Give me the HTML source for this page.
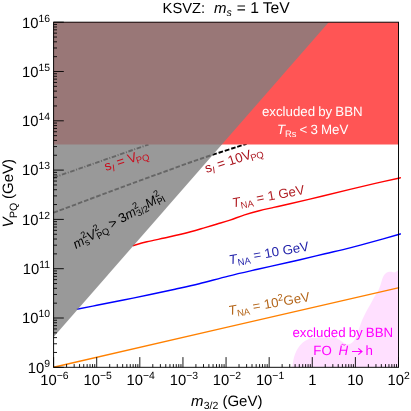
<!DOCTYPE html><html><head><meta charset="utf-8"><style>html,body{margin:0;padding:0;background:#fff}svg{display:block}text{font-family:"Liberation Sans",sans-serif;text-rendering:geometricPrecision}.i{font-style:italic}.l{word-spacing:-0.6px}</style></head><body>
<svg width="411" height="411" viewBox="0 0 411 411">
<rect width="411" height="411" fill="#fff"/>
<path d="M292.30,367.30 C292.50,366.02 293.02,361.85 293.50,359.60 C293.98,357.35 294.43,355.73 295.20,353.80 C295.97,351.87 296.88,349.83 298.10,348.00 C299.32,346.17 300.78,344.27 302.50,342.80 C304.22,341.33 306.45,340.03 308.40,339.20 C310.35,338.37 310.80,338.10 314.20,337.80 C317.60,337.50 325.38,337.43 328.80,337.40 C332.22,337.37 333.30,337.42 334.70,337.60 C336.10,337.78 336.18,337.97 337.20,338.50 C338.22,339.03 339.58,340.02 340.80,340.80 C342.02,341.58 343.38,342.60 344.50,343.20 C345.62,343.80 346.38,344.40 347.50,344.40 C348.62,344.40 350.08,343.90 351.20,343.20 C352.32,342.50 353.25,341.62 354.20,340.20 C355.15,338.78 356.05,336.73 356.90,334.70 C357.75,332.67 358.42,330.45 359.30,328.00 C360.18,325.55 361.10,322.63 362.20,320.00 C363.30,317.37 364.55,314.77 365.90,312.20 C367.25,309.63 368.93,307.08 370.30,304.60 C371.67,302.12 372.73,299.73 374.10,297.30 C375.47,294.87 377.40,292.18 378.50,290.00 C379.60,287.82 379.98,286.27 380.70,284.20 C381.42,282.13 382.08,279.30 382.80,277.60 C383.52,275.90 384.13,274.92 385.00,274.00 C385.87,273.08 386.90,272.47 388.00,272.10 C389.10,271.73 390.52,271.73 391.60,271.80 C392.68,271.87 393.53,272.67 394.50,272.50 C395.47,272.33 396.73,271.17 397.40,270.80 C398.07,270.43 398.32,270.38 398.50,270.30 L398.5,367.3 Z" fill="#ffe0ff"/>
<path d="M53.6,177.6 L148.5,144.5" stroke="#000" stroke-width="1.9" fill="none" stroke-dasharray="4.6,1.6,1.0,1.6"/>
<path d="M53.60,212.70 C63.50,209.00 95.27,197.07 113.00,190.50 C130.73,183.93 145.50,178.55 160.00,173.30 C174.50,168.05 185.57,163.92 200.00,159.00 C214.43,154.08 238.83,146.33 246.60,143.80" stroke="#000" stroke-width="1.9" fill="none" stroke-dasharray="4.6,1.9"/>
<rect x="53.6" y="22.2" width="344.90" height="122.30" fill="#ff5555"/>
<path d="M132.70,245.70 C135.07,245.05 140.88,243.25 146.90,241.80 C152.92,240.35 161.50,238.68 168.80,237.00 C176.10,235.32 184.67,233.27 190.70,231.70 C196.73,230.13 200.58,228.88 205.00,227.60 C209.42,226.32 213.03,225.25 217.20,224.00 C221.37,222.75 225.43,221.62 230.00,220.10 C234.57,218.58 239.73,216.45 244.60,214.90 C249.47,213.35 254.33,212.05 259.20,210.80 C264.07,209.55 268.67,208.58 273.80,207.40 C278.93,206.22 282.00,205.55 290.00,203.70 C298.00,201.85 311.80,198.68 321.80,196.30 C331.80,193.92 341.08,191.55 350.00,189.40 C358.92,187.25 367.22,185.27 375.30,183.40 C383.38,181.53 394.55,179.08 398.50,178.20 C402.45,177.32 398.92,178.12 399.00,178.10" stroke="#ff0000" stroke-width="1.4" fill="none"/>
<path d="M76.70,309.30 C80.05,308.63 89.00,306.85 96.80,305.30 C104.60,303.75 114.58,301.80 123.50,300.00 C132.42,298.20 141.72,296.30 150.30,294.50 C158.88,292.70 166.85,291.00 175.00,289.20 C183.15,287.40 190.30,285.88 199.20,283.70 C208.10,281.52 218.67,278.50 228.40,276.10 C238.13,273.70 247.33,271.65 257.60,269.30 C267.87,266.95 282.93,263.60 290.00,262.00 C297.07,260.40 294.17,261.07 300.00,259.70 C305.83,258.33 316.67,255.77 325.00,253.80 C333.33,251.83 341.67,250.00 350.00,247.90 C358.33,245.80 366.92,243.43 375.00,241.20 C383.08,238.97 394.50,235.64 398.50,234.50 C402.50,233.36 398.92,234.38 399.00,234.35" stroke="#0000ff" stroke-width="1.4" fill="none"/>
<path d="M53.60,367.20 C111.20,353.94 341.60,300.91 399.20,287.65" stroke="#ff8000" stroke-width="1.4" fill="none"/>
<path d="M53.6,22.2 L328.7,22.2 L53.6,336.9 Z" fill="#808080" fill-opacity="0.8"/>
<rect x="53.6" y="22.2" width="344.90" height="345.10" fill="none" stroke="#000" stroke-width="0.95"/>
<path d="M53.6,367.30h10.2M53.6,352.46h3.4M53.6,343.78h3.4M53.6,337.62h3.4M53.6,332.84h3.4M53.6,328.94h3.4M53.6,325.64h3.4M53.6,322.78h3.4M53.6,320.26h3.4M53.6,318.00h10.2M53.6,303.16h3.4M53.6,294.48h3.4M53.6,288.32h3.4M53.6,283.54h3.4M53.6,279.64h3.4M53.6,276.34h3.4M53.6,273.48h3.4M53.6,270.96h3.4M53.6,268.70h10.2M53.6,253.86h3.4M53.6,245.18h3.4M53.6,239.02h3.4M53.6,234.24h3.4M53.6,230.34h3.4M53.6,227.04h3.4M53.6,224.18h3.4M53.6,221.66h3.4M53.6,219.40h10.2M53.6,204.56h3.4M53.6,195.88h3.4M53.6,189.72h3.4M53.6,184.94h3.4M53.6,181.04h3.4M53.6,177.74h3.4M53.6,174.88h3.4M53.6,172.36h3.4M53.6,170.10h10.2M53.6,155.26h3.4M53.6,146.58h3.4M53.6,140.42h3.4M53.6,135.64h3.4M53.6,131.74h3.4M53.6,128.44h3.4M53.6,125.58h3.4M53.6,123.06h3.4M53.6,120.80h10.2M53.6,105.96h3.4M53.6,97.28h3.4M53.6,91.12h3.4M53.6,86.34h3.4M53.6,82.44h3.4M53.6,79.14h3.4M53.6,76.28h3.4M53.6,73.76h3.4M53.6,71.50h10.2M53.6,56.66h3.4M53.6,47.98h3.4M53.6,41.82h3.4M53.6,37.04h3.4M53.6,33.14h3.4M53.6,29.84h3.4M53.6,26.98h3.4M53.6,24.46h3.4M53.6,22.20h10.2M53.60,367.3v-10.2M66.58,367.3v-3.2M74.17,367.3v-3.2M79.56,367.3v-3.2M83.73,367.3v-3.2M87.15,367.3v-3.2M90.03,367.3v-3.2M92.53,367.3v-3.2M94.74,367.3v-3.2M96.71,367.3v-10.2M109.69,367.3v-3.2M117.28,367.3v-3.2M122.67,367.3v-3.2M126.85,367.3v-3.2M130.26,367.3v-3.2M133.15,367.3v-3.2M135.65,367.3v-3.2M137.85,367.3v-3.2M139.82,367.3v-10.2M152.80,367.3v-3.2M160.39,367.3v-3.2M165.78,367.3v-3.2M169.96,367.3v-3.2M173.37,367.3v-3.2M176.26,367.3v-3.2M178.76,367.3v-3.2M180.96,367.3v-3.2M182.94,367.3v-10.2M195.92,367.3v-3.2M203.51,367.3v-3.2M208.89,367.3v-3.2M213.07,367.3v-3.2M216.49,367.3v-3.2M219.37,367.3v-3.2M221.87,367.3v-3.2M224.08,367.3v-3.2M226.05,367.3v-10.2M239.03,367.3v-3.2M246.62,367.3v-3.2M252.01,367.3v-3.2M256.18,367.3v-3.2M259.60,367.3v-3.2M262.48,367.3v-3.2M264.98,367.3v-3.2M267.19,367.3v-3.2M269.16,367.3v-10.2M282.14,367.3v-3.2M289.73,367.3v-3.2M295.12,367.3v-3.2M299.30,367.3v-3.2M302.71,367.3v-3.2M305.60,367.3v-3.2M308.10,367.3v-3.2M310.30,367.3v-3.2M312.27,367.3v-10.2M325.25,367.3v-3.2M332.84,367.3v-3.2M338.23,367.3v-3.2M342.41,367.3v-3.2M345.82,367.3v-3.2M348.71,367.3v-3.2M351.21,367.3v-3.2M353.41,367.3v-3.2M355.39,367.3v-10.2M368.37,367.3v-3.2M375.96,367.3v-3.2M381.34,367.3v-3.2M385.52,367.3v-3.2M388.94,367.3v-3.2M391.82,367.3v-3.2M394.32,367.3v-3.2M396.53,367.3v-3.2M398.50,367.3v-10.2" stroke="#000" stroke-width="0.9" fill="none"/>
<defs><filter id="f" x="0" y="0" width="411" height="411" filterUnits="userSpaceOnUse" color-interpolation-filters="sRGB"><feOffset dx="0" dy="0"/></filter></defs><g filter="url(#f)">
<text x="50" y="372.60" font-size="14.8" text-anchor="end">10<tspan dy="-6" font-size="10.4">9</tspan></text>
<text x="50" y="323.30" font-size="14.8" text-anchor="end">10<tspan dy="-6" font-size="10.4">10</tspan></text>
<text x="50" y="274.00" font-size="14.8" text-anchor="end">10<tspan dy="-6" font-size="10.4">11</tspan></text>
<text x="50" y="224.70" font-size="14.8" text-anchor="end">10<tspan dy="-6" font-size="10.4">12</tspan></text>
<text x="50" y="175.40" font-size="14.8" text-anchor="end">10<tspan dy="-6" font-size="10.4">13</tspan></text>
<text x="50" y="126.10" font-size="14.8" text-anchor="end">10<tspan dy="-6" font-size="10.4">14</tspan></text>
<text x="50" y="76.80" font-size="14.8" text-anchor="end">10<tspan dy="-6" font-size="10.4">15</tspan></text>
<text x="50" y="27.50" font-size="14.8" text-anchor="end">10<tspan dy="-6" font-size="10.4">16</tspan></text>
<text x="54.50" y="385" font-size="14.8" text-anchor="middle">10<tspan dy="-6" font-size="10.4">−6</tspan></text>
<text x="97.61" y="385" font-size="14.8" text-anchor="middle">10<tspan dy="-6" font-size="10.4">−5</tspan></text>
<text x="140.72" y="385" font-size="14.8" text-anchor="middle">10<tspan dy="-6" font-size="10.4">−4</tspan></text>
<text x="183.84" y="385" font-size="14.8" text-anchor="middle">10<tspan dy="-6" font-size="10.4">−3</tspan></text>
<text x="226.95" y="385" font-size="14.8" text-anchor="middle">10<tspan dy="-6" font-size="10.4">−2</tspan></text>
<text x="270.06" y="385" font-size="14.8" text-anchor="middle">10<tspan dy="-6" font-size="10.4">−1</tspan></text>
<text x="312.27" y="385" font-size="14.8" text-anchor="middle">1</text>
<text x="355.39" y="385" font-size="14.8" text-anchor="middle">10</text>
<text x="398.70" y="385" font-size="14.8" text-anchor="middle">10<tspan dy="-6" font-size="10.4">2</tspan></text>
<text x="162.6" y="13" font-size="14.7">KSVZ:</text>
<text x="213.9" y="13" font-size="15" class="i">m</text>
<text x="226.6" y="16" font-size="10.5" class="i">s</text>
<text x="236.8" y="13" font-size="15.5">=</text>
<text x="250.2" y="13" font-size="15.7">1</text>
<text x="262.7" y="13" font-size="15.7">TeV</text>
<text x="190.9" y="405.6" font-size="15" class="i">m</text>
<text x="203.7" y="408.8" font-size="10.5">3/2</text>
<text x="222.4" y="405.6" font-size="15">(GeV)</text>
<g transform="translate(13.1,195) rotate(-90)"><text x="-32.5" y="0" font-size="15" class="i">V</text><text x="-23" y="3.4" font-size="10.6">PQ</text><text x="-3.9" y="0" font-size="15">(GeV)</text></g>
<text x="312.3" y="115.8" font-size="13.3" fill="#fff" text-anchor="middle" class="l">excluded by BBN</text>
<text x="276.9" y="134.4" font-size="13.3" fill="#fff" class="l"><tspan class="i">T</tspan><tspan dy="2.8" font-size="9.4">Rs</tspan><tspan dy="-2.8"> &lt; 3 MeV</tspan></text>
<text x="342.8" y="336.9" font-size="13.3" fill="#ff00ff" text-anchor="middle" class="l">excluded by BBN</text>
<text x="313.3" y="355.3" font-size="13.3" fill="#ff00ff">FO</text>
<text x="338.6" y="355.3" font-size="13.3" fill="#ff00ff" class="i">H</text>
<path d="M341.2,345.3c0.8,-1.2 1.5,-1.1 2.2,-0.5c0.7,0.6 1.4,0.6 2.1,-0.6" stroke="#ff00ff" stroke-width="0.9" fill="none"/>
<path d="M352,351.5h9.8M358.3,348.4l3.7,3.1l-3.7,3.1" stroke="#ff00ff" stroke-width="1.1" fill="none"/>
<text x="365.4" y="355.3" font-size="13.3" fill="#ff00ff">h</text>
<text transform="translate(106,171) rotate(-18)" font-size="13.3" fill="#c80f1e">s<tspan dy="2.8" font-size="9.4" class="i">I</tspan><tspan dy="-2.8"> = V</tspan><tspan dy="2.8" dx="-1.4" font-size="9.4">PQ</tspan></text>
<text transform="translate(206.4,173) rotate(-18)" font-size="13.3" fill="#aa141e">s<tspan dy="2.8" font-size="9.4" class="i">I</tspan><tspan dy="-2.8"> = 10V</tspan><tspan dy="2.8" dx="-1.4" font-size="9.4">PQ</tspan></text>
<g transform="translate(76.0,249.0) rotate(-29.5)"><text x="0.0" y="0.0" font-size="13" class="i">m</text><text x="10.9" y="-5.6" font-size="9.2">2</text><text x="10.9" y="2.8" font-size="9.2">s</text><text x="15.9" y="0.0" font-size="13" class="i">V</text><text x="24.9" y="-5.6" font-size="9.2">2</text><text x="24.5" y="2.8" font-size="9.2">PQ</text><text x="41.2" y="0.0" font-size="13">&gt;</text><text x="52.3" y="0.0" font-size="13">3</text><text x="59.5" y="0.0" font-size="13" class="i">m</text><text x="70.4" y="-5.6" font-size="9.2">2</text><text x="70.3" y="2.8" font-size="9.2">3/2</text><text x="82.9" y="0.0" font-size="13" class="i">M</text><text x="94.6" y="-5.6" font-size="9.2">2</text><text x="93.8" y="2.8" font-size="9.2">Pl</text></g>
<text transform="translate(232.9,207.4) rotate(-10.5)" font-size="13.2" fill="#b01c22" ><tspan class="i">T</tspan><tspan dy="2.8" font-size="9.4">NA</tspan><tspan dy="-2.8"> = 1 GeV</tspan></text>
<text transform="translate(229.8,264.4) rotate(-10)" font-size="13.2" fill="#2222aa" ><tspan class="i">T</tspan><tspan dy="2.8" font-size="9.4">NA</tspan><tspan dy="-2.8"> = 10 GeV</tspan></text>
<text transform="translate(229.2,315.2) rotate(-10)" font-size="13.2" fill="#b4661a" ><tspan class="i">T</tspan><tspan dy="2.8" font-size="9.4">NA</tspan><tspan dy="-2.8"> = 10</tspan><tspan dy="-5.5" font-size="9.4">2</tspan><tspan dy="5.5">GeV</tspan></text>
</g>
</svg></body></html>
